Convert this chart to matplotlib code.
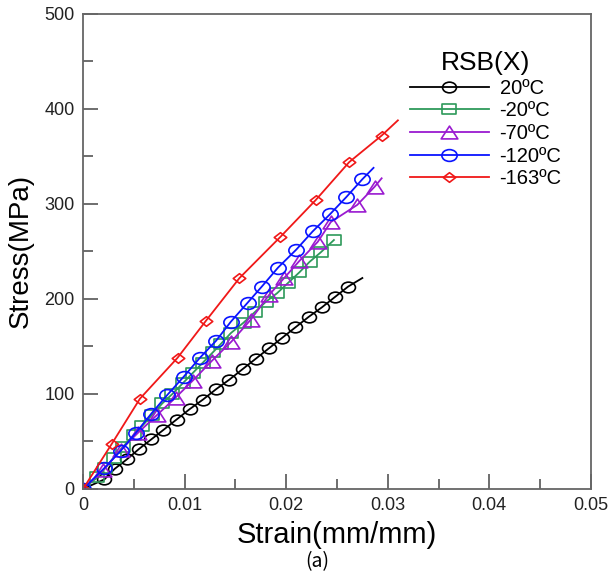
import numpy as np
import matplotlib.pyplot as plt
from matplotlib.ticker import MultipleLocator
from matplotlib.markers import MarkerStyle
from matplotlib.path import Path

plt.rcParams['font.family'] = ['Liberation Sans', 'DejaVu Sans']

labels = ['20ºC', '-20ºC', '-70ºC', '-120ºC', '-163ºC']
colors = ['black', '#2e9a5a', '#9a1ad0', '#0a14ff', '#f01818']
markers = ['o', 's', '^', 'o', 'D']
msizes = [10, 10, 12, 11, 9]

# strain / stress (markers), plus where each curve ends
x_20 = [0, 0.0021, 0.0031, 0.0043, 0.0055, 0.0067, 0.0079, 0.0092, 0.0105, 0.0118, 0.0131,
        0.0144, 0.0157, 0.0170, 0.0183, 0.0196, 0.0209, 0.0222, 0.0235, 0.0248, 0.0261]
y_20 = [0, 10, 21, 31, 42, 52, 62, 73, 84, 94, 105, 115, 126, 137, 148, 159, 170, 181, 191, 202, 213]
end_20 = (0.0275, 222)

x_m20 = [0, 0.0014, 0.0022, 0.0030, 0.0039, 0.0050, 0.0058, 0.0068, 0.0078, 0.0088, 0.0098, 0.0108,
         0.0118, 0.0128, 0.0136, 0.01455, 0.0158, 0.0169, 0.0180, 0.0191, 0.0202, 0.0213, 0.0223,
         0.0234, 0.0247]
y_m20 = [0, 12, 22, 33, 44, 57, 66, 78, 90, 100, 111, 122, 133, 144, 153, 164, 175, 186, 197, 206,
         217, 228, 239, 249, 262]
end_m20 = (0.0247, 262)

x_m70 = [0, 0.0020, 0.0037, 0.0054, 0.0073, 0.0091, 0.0108, 0.0127, 0.0146, 0.0165, 0.0183, 0.0198,
         0.0213, 0.0231, 0.0244, 0.0270, 0.0287]
y_m70 = [0, 20, 41, 59, 78, 96, 114, 135, 155, 178, 204, 222, 240, 260, 281, 299, 318]
end_m70 = (0.0294, 327)

x_m120 = [0, 0.0021, 0.0037, 0.0052, 0.0067, 0.0083, 0.0099, 0.0115, 0.0131, 0.01455, 0.0162,
          0.0176, 0.0192, 0.0210, 0.0226, 0.0243, 0.0259, 0.0275]
y_m120 = [0, 22, 40, 59, 79, 99, 118, 138, 156, 176, 196, 213, 233, 252, 271, 289, 307, 326]
end_m120 = (0.0286, 338)

x_m163 = [0, 0.0028, 0.0056, 0.0093, 0.0121, 0.0154, 0.0194, 0.0229, 0.0262, 0.0294]
y_m163 = [0, 47, 95, 138, 177, 222, 265, 304, 344, 372]
end_m163 = (0.0310, 388)

series = [(x_20, y_20, end_20), (x_m20, y_m20, end_m20), (x_m70, y_m70, end_m70),
          (x_m120, y_m120, end_m120), (x_m163, y_m163, end_m163)]


def wide(m, sx=1.3):
    # the original picture is stretched sideways, so are its markers
    st = MarkerStyle(m)
    p = st.get_path().transformed(st.get_transform())
    return Path(p.vertices * [sx, 1.0], p.codes)


fig = plt.figure(figsize=(6.11, 5.82), dpi=100)
ax = fig.add_axes([0.136, 0.16, 0.831, 0.816])

for (xs, ys, end), lab, c, m, ms in zip(series, labels, colors, markers, msizes):
    mk = wide(m)
    ax.plot(list(xs) + [end[0]], list(ys) + [end[1]], color=c, lw=1.3)
    ax.plot(xs, ys, ls='none', marker=mk, ms=ms, mfc='none', mec=c, mew=1.2)
    ax.plot([], [], color=c, lw=1.3, marker=mk, ms=ms, mfc='none', mec=c, mew=1.2, label=lab)

ax.set_xlim(0, 0.05)
ax.set_ylim(0, 500)
ax.xaxis.set_minor_locator(MultipleLocator(0.005))
ax.yaxis.set_major_locator(MultipleLocator(100))
ax.yaxis.set_minor_locator(MultipleLocator(50))
ax.set_xticks([0, 0.01, 0.02, 0.03, 0.04, 0.05])
ax.set_xticklabels(['0', '0.01', '0.02', '0.03', '0.04', '0.05'])
ax.tick_params(which='both', direction='in', top=False, right=False, labelsize=13,
               color='#555555', labelcolor='#222222', pad=6)
ax.tick_params(which='major', length=11, width=1.2)
ax.tick_params(which='minor', length=7, width=1.2)
for s in ax.spines.values():
    s.set_color('#666666')
    s.set_linewidth(1.3)

ax.set_xlabel('Strain(mm/mm)', fontsize=21, labelpad=5)
ax.set_ylabel('Stress(MPa)', fontsize=20, labelpad=8)

leg = ax.legend(title='RSB(X)', loc='upper left', bbox_to_anchor=(0.62, 0.947), frameon=False,
                fontsize=14.5, title_fontsize=19, handlelength=3.9, handletextpad=0.55,
                labelspacing=0.18, borderaxespad=0.2)

fig.text(0.52, 0.035, '(a)', fontsize=14, family=['Noto Sans CJK KR', 'DejaVu Sans'],
         ha='center', va='center')

fig.savefig('out.png', dpi=100)
